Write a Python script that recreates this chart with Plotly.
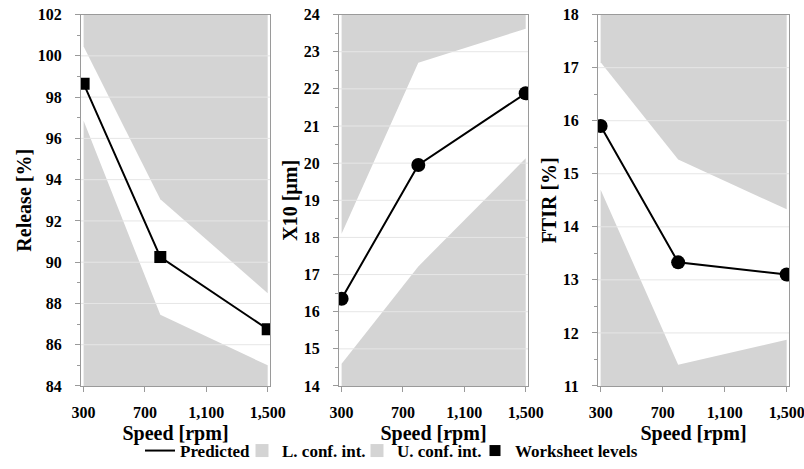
import plotly.graph_objects as go

# ---- data ----
speed_levels = [300, 800, 1500]
x_ticks = [300, 700, 1100, 1500]
x_tick_labels = ["300", "700", "1,100", "1,500"]

release_pred = [98.65, 90.25, 86.75]
release_upper = [100.45, 93.05, 88.5]
release_lower = [96.85, 87.45, 85.0]

x10_pred = [16.35, 19.95, 21.88]
x10_upper = [18.1, 22.7, 23.62]
x10_lower = [14.6, 17.22, 20.13]

ftir_pred = [15.9, 13.33, 13.1]
ftir_upper = [17.1, 15.27, 14.33]
ftir_lower = [14.7, 11.4, 11.87]

panels = [
    dict(title="Release [%]", pred=release_pred, up=release_upper, lo=release_lower,
         yrange=[84, 102], dtick=2, minor=1, symbol="square", msize=12),
    dict(title="X10 [µm]", pred=x10_pred, up=x10_upper, lo=x10_lower,
         yrange=[14, 24], dtick=1, minor=0.5, symbol="circle", msize=14),
    dict(title="FTIR [%]", pred=ftir_pred, up=ftir_upper, lo=ftir_lower,
         yrange=[11, 18], dtick=1, minor=0.5, symbol="circle", msize=14),
]

W, H = 804, 469
x_range = [283, 1515]
x_domains_px = [(81, 270), (339, 528), (598, 789)]
y_domain = [1 - 397 / H, 1 - 15 / H]

FONT = "Liberation Serif"
GRAY = "#d4d4d4"
AXIS = "#9a9a9a"

fig = go.Figure()
layout = {}

for i, p in enumerate(panels):
    n = "" if i == 0 else str(i + 1)
    xa, ya = "x" + n, "y" + n
    ymin, ymax = p["yrange"]

    # upper (grey above upper confidence limit)
    fig.add_trace(go.Scatter(
        x=speed_levels + [speed_levels[-1], speed_levels[0]],
        y=p["up"] + [ymax, ymax],
        fill="toself", fillcolor=GRAY, mode="lines", line=dict(width=0),
        name="U. conf. int.", showlegend=False,
        xaxis=xa, yaxis=ya, hoverinfo="skip"))
    # lower (grey below lower confidence limit)
    fig.add_trace(go.Scatter(
        x=speed_levels + [speed_levels[-1], speed_levels[0]],
        y=p["lo"] + [ymin, ymin],
        fill="toself", fillcolor=GRAY, mode="lines", line=dict(width=0),
        name="L. conf. int.", showlegend=False,
        xaxis=xa, yaxis=ya, hoverinfo="skip"))

    # gridlines drawn over fills
    gx, gy = [], []
    v = ymin + p["dtick"]
    while v < ymax - 1e-9:
        gx += [x_range[0], x_range[1], None]
        gy += [v, v, None]
        v += p["dtick"]
    fig.add_trace(go.Scatter(x=gx, y=gy, mode="lines",
                             line=dict(color="#e6e6e6", width=1),
                             showlegend=False, hoverinfo="skip",
                             xaxis=xa, yaxis=ya))

    # predicted line
    fig.add_trace(go.Scatter(
        x=speed_levels, y=p["pred"], mode="lines",
        line=dict(color="black", width=2),
        name="Predicted", showlegend=(i == 0), legendrank=1, legendwidth=57,
        xaxis=xa, yaxis=ya))
    # worksheet levels markers
    fig.add_trace(go.Scatter(
        x=speed_levels, y=p["pred"], mode="markers",
        marker=dict(symbol=p["symbol"], size=p["msize"], color="black"),
        name="Worksheet levels", showlegend=False,
        xaxis=xa, yaxis=ya))

    d0, d1 = x_domains_px[i]
    layout["xaxis" + n] = dict(
        domain=[d0 / W, d1 / W], range=x_range, anchor=ya, automargin=False,
        tickvals=x_ticks, ticktext=x_tick_labels, ticklabeloverflow="allow",
        ticks="outside", ticklen=5, tickcolor=AXIS, ticklabelstandoff=7,
        showline=True, linecolor=AXIS, linewidth=1, mirror=True,
        showgrid=False, zeroline=False,
        tickfont=dict(family=FONT, size=16, color="black", weight="bold"),
        title=dict(text="Speed [rpm]", standoff=5,
                   font=dict(family=FONT, size=20, color="black", weight="bold")),
    )
    layout["yaxis" + n] = dict(
        domain=y_domain, range=p["yrange"], anchor=xa, automargin=False,
        dtick=p["dtick"], tick0=ymin,
        ticks="outside", ticklen=5, tickcolor=AXIS, ticklabelstandoff=10,
        minor=dict(dtick=p["minor"], ticks="outside", ticklen=3, tickcolor=AXIS, showgrid=False),
        showline=True, linecolor=AXIS, linewidth=1, mirror=True,
        showgrid=False, zeroline=False,
        tickfont=dict(family=FONT, size=16, color="black", weight="bold"),
        title=dict(text=p["title"], standoff=0,
                   font=dict(family=FONT, size=20, color="black", weight="bold")),
    )

# legend-only entries for the confidence areas and worksheet levels
fig.add_trace(go.Scatter(x=[None], y=[None], mode="markers",
                         marker=dict(symbol="square", size=13, color=GRAY),
                         name="L. conf. int.", legendrank=2, legendwidth=70))
fig.add_trace(go.Scatter(x=[None], y=[None], mode="markers",
                         marker=dict(symbol="square", size=13, color=GRAY),
                         name="U. conf. int.", legendrank=3, legendwidth=73))
fig.add_trace(go.Scatter(x=[None], y=[None], mode="markers",
                         marker=dict(symbol="square", size=11, color="black"),
                         name="Worksheet levels", legendrank=4))

fig.update_layout(
    width=W, height=H, autosize=False,
    margin=dict(l=0, r=0, t=0, b=0),
    paper_bgcolor="white", plot_bgcolor="white",
    showlegend=True,
    legend=dict(orientation="h", x=140 / W, xanchor="left", y=1 - 464 / H, yanchor="middle",
                font=dict(family=FONT, size=17, color="black", weight="bold"),
                itemwidth=30, tracegroupgap=0, bgcolor="rgba(0,0,0,0)"),
    **layout,
)

post = (
    "var de=document.documentElement, b=document.body;"
    "de.style.margin='0';de.style.height='469px';de.style.overflow='hidden';"
    "b.style.margin='0';b.style.height='469px';b.style.overflow='hidden';"
)
fig.write_html("out.html", config={"displayModeBar": False, "responsive": False},
               post_script=post)
